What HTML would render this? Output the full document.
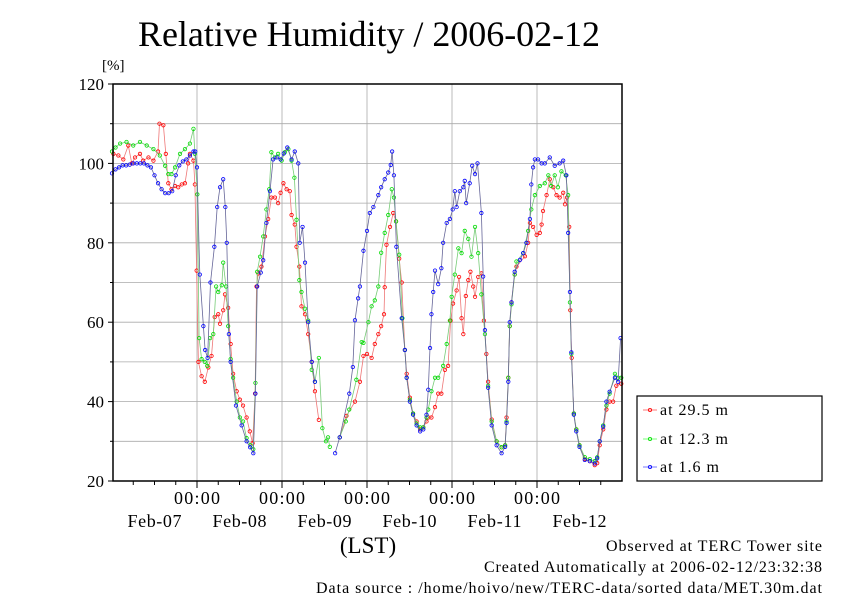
<!DOCTYPE html>
<html><head><meta charset="utf-8"><style>
body{margin:0;background:#fff}
svg{display:block;font-family:"Liberation Serif",serif}
</style></head><body>
<svg id="c" width="842" height="595" viewBox="0 0 842 595">
<text x="369" y="46" font-size="36" text-anchor="middle" textLength="462">Relative Humidity / 2006-02-12</text>
<text x="102" y="70" font-size="15">[%]</text>
<g id="grid"></g>
<g id="axes"></g>
<g id="series"></g>
<rect x="113" y="84" width="509" height="397" fill="none" stroke="#000" stroke-width="1.5"/>
<text x="368" y="553" font-size="23" text-anchor="middle">(LST)</text>
<text x="606" y="551" font-size="16" textLength="216">Observed at TERC Tower site</text>
<text x="484" y="572" font-size="16" textLength="338">Created Automatically at 2006-02-12/23:32:38</text>
<text x="316" y="593" font-size="16" textLength="506">Data source : /home/hoivo/new/TERC-data/sorted  data/MET.30m.dat</text>
<g>
<rect x="637" y="396" width="185" height="85" fill="#fff" stroke="#000" stroke-width="1.2"/>
<g><line x1="643" y1="410" x2="657" y2="410" stroke="#f55" stroke-width="0.8"/><circle cx="650" cy="410" r="1.6" fill="none" stroke="#f00" stroke-width="0.8"/><text x="660" y="415" font-size="16" textLength="68">at 29.5 m</text></g>
<g><line x1="643" y1="439" x2="657" y2="439" stroke="#5f5" stroke-width="0.8"/><circle cx="650" cy="439" r="1.6" fill="none" stroke="#0d0" stroke-width="0.8"/><text x="660" y="444" font-size="16" textLength="68">at 12.3 m</text></g>
<g><line x1="643" y1="467" x2="657" y2="467" stroke="#55f" stroke-width="0.8"/><circle cx="650" cy="467" r="1.6" fill="none" stroke="#00f" stroke-width="0.8"/><text x="660" y="472" font-size="16" textLength="59">at 1.6 m</text></g>
</g>
</svg>
<script>
const yTicks=[20,40,60,80,100,120];
const dayLabels=["Feb-07","Feb-08","Feb-09","Feb-10","Feb-11","Feb-12"];
const blueHours=[0,1,2,3,4,5,6,7,8,9,10,11,12,13,14,15,16,17,18,19,20,21,22,23,23.5,24,24.8,25.8,26.3,27,27.8,28.9,29.7,30.5,31.4,32,32.4,33,33.5,35,36.6,38,39,39.9,40.5,41,42,42.7,43.6,44.6,45.5,46.5,47.6,48.5,49.5,50.7,51.6,52.6,53,53.8,54.5,55.4,56.4,57.3,58,63,64.3,67,68,68.6,69.5,70,71,72,72.8,73.8,75.2,76,77,78,78.7,79.1,79.6,80.3,81.8,82.7,83.2,84.1,85,86,87,87.9,88.8,89.3,89.8,90.2,90.7,91.2,92.1,93,93.5,94.5,95.4,96.2,96.8,97.3,98.2,99.2,99.6,100,101,101.7,102.5,103.2,104.3,104.8,105.3,106.2,107.2,108.6,110,111,111.4,111.9,112.3,112.8,113.7,115.2,116.1,117,118,118.4,118.9,119.4,120.3,121.3,122.2,123.6,125,126.4,127.4,128.3,128.8,129.3,129.7,130.4,131.1,132,133.5,134.9,136.3,137,137.7,138.7,139.6,140.5,142,142.9,143.6];
const blueValues=[97.5,98.5,99,99.5,99.5,99.7,100,100,100,100,99.5,99,97,95,93.5,92.5,92.5,93,97,99.5,100.5,101,102,103,103,99,72,59,53,51,70,79,89,94,96,89,80,57,50,39,34,30,28.5,27,42,69,72.5,75.6,85,93,101,101.5,101,102.5,104,101,103,100,80,84,75,60,50,45,null,27,31,42,48.7,60.5,66,69,78,83,87.5,89,92,94,96,97.7,99.6,103,97,79,61,53,46,40,36.7,34,32.5,33,36.7,43,53.5,62,67.6,73,69.6,73.6,80,85,86,88.4,93,89,93,94,95.6,90,95,99.4,97.3,100,87.5,71.5,58,43.5,34,29,27,28.6,34.6,45,60,65,72.7,75.7,77.4,80,86,94.7,99,101,101,100,100,101.5,99.4,100,100.7,97,82.5,67.6,52.4,36.7,32.5,28.6,25.3,25,24.4,25.7,30,33.7,40,42.5,46,45,56];
const greenHours=[0,1,2.3,4.1,6,7.9,9.8,11.7,13.5,15,15.9,16.8,17.8,19.2,20.6,22,23,23.4,24.1,24.6,25.3,26.2,26.9,27.7,28.6,29.4,30,31,31.4,32.2,32.8,33.5,34.2,35.2,36.1,37,38,39.1,39.9,40.5,41,41.8,42.7,43.6,44.4,45,46,46.9,47.9,48.8,49.8,50.7,51.5,52.1,52.9,53.5,54.5,55.4,56.4,57.3,58.4,59.4,60.4,61,61.5,62,64.3,66,67,69,70.5,71,72.4,73.3,74.2,75.2,76,77,78,79,79.6,80.2,81.1,82,82.7,83.2,84.1,85,86,87,87.9,88.8,89.3,90.2,91.2,92.1,93.5,94.5,95.4,95.9,96.8,97.8,98.7,99.6,100.6,101.5,102.5,103.4,104.3,105.3,106.2,107.2,108.6,110,111,111.4,111.9,112.3,112.8,113.7,114.2,116.1,117.5,118.4,119.4,120.8,122.2,123.2,124,125,125.9,126.9,128.1,128.8,129.3,129.7,130.4,131.1,132,133.5,134.9,136.3,137,137.7,138.7,139.6,140.5,142,142.9,143.8];
const greenValues=[103,104,105,105.4,104.5,105.4,104.5,103.6,102,99.4,97.3,97.3,99,102.4,103.6,105,108.7,102.4,92.2,56,50.7,50,49,56,57,69,67.6,69.3,75,69,59,50.7,46,40,36,35,30.8,29,28,44.7,72.7,76.5,81.6,88.4,93.5,102.8,101.5,102.4,100.7,102.8,103.6,100.7,96.4,85.8,70.6,67.6,63.4,60.4,48,45,51,33.3,30,31,28.6,null,31,35,38,45.5,55,54.8,60,64,65.5,69,77.5,82.5,87,93.5,91.4,85.4,77,61,53,46,40.5,37,34.5,33.5,33.5,36,38,42.6,46,46,49,54.5,60.4,66.4,72,78.6,77.4,83,81,76.5,84,77.4,67,57,44,35,30,28.5,29,35,46,59,64.5,72,75.3,77.4,83,88.4,92,94.3,95,97,94.3,97,94,98,97,92,65,52,37,33,29,26,25.5,25,26,30,34,39,42,47,46,46];
const redHours=[0.4,1.8,3.2,4.6,5.6,6.5,7.9,8.8,10.3,11.7,13,13.4,14.5,15.2,15.9,16.8,17.8,18.7,19.7,20.6,21.5,22,23,23.4,23.9,24.4,25.3,26.2,27.2,28.1,29,30,30.5,31.4,31.9,32.8,33.5,34.2,35.2,36.1,37,38,38.9,39.7,40.4,40.8,41.3,42.2,43.2,44.1,45,46,46.9,47.6,48.4,49.3,50.2,50.7,51.6,52.1,52.9,53.5,54.5,55.4,56.4,57.3,58.4,59,64.3,66.2,68.6,70,71,72,73.3,74.2,75.2,76,76.8,77,77.5,78.5,79.4,80.2,81.1,81.8,82.7,83.2,84.1,85,86,87,87.9,88.8,89.3,90.2,91.2,92.1,93,94,94.9,95.6,96.3,97.3,98,98.7,99.2,99.9,100.6,101.2,102,102.5,103.4,104.3,105,105.7,106.2,107.2,108.6,110,111,111.4,111.9,112.3,112.8,113.7,114.2,116.6,117.5,118,118.9,119.9,120.8,121.3,121.7,122.7,123.6,124.6,125.5,126.4,127.4,127.9,128.5,129.1,129.4,129.8,130.4,131.1,132,133.5,134.9,136.3,137,137.7,138.7,139.6,140.5,141.5,142.4,143.8];
const redValues=[102.4,102,101,104.5,100,101.5,102.4,100.7,101.5,100.7,103,110,109.6,102.4,95,93.5,94.3,94,94.7,95,100,102.4,100.7,94.7,73,50,46.4,45,48.6,51.5,61.3,62,59.6,63,67,63.6,54.5,47,42.6,40.5,39,36,32.5,29.5,42,69,72.3,74,81.6,86,91.4,91.4,90,92.6,95,93.5,93,87,84.6,79,74,64,62,57,50,42.6,35.4,null,31,36.4,40,45,51.5,52,51,54.5,57,59,62,68.8,79.5,84,87.5,85.4,76,70,53,47,41,37,35,33,33.5,35,36,36,38.6,42,42,48,49,60.4,64.7,68,71.4,61,57,66.6,70.6,72.7,69,66.4,71.4,72.3,60.4,52,45,35.5,30,28.5,29,36,46,59,65,72,74,76.6,80,85,84,82,82.5,84.6,88,92,96,94,92,91.4,92.6,89.7,91.4,84,63,51,37,33,29,25.5,25,24,24.5,29,33,38,40,40,44,44.5];

const X0=112,PXH=85/24,YB=481,PXV=397/100;
const xs=h=>X0+h*PXH;
const ys=v=>YB-(v-20)*PXV;
const NS="http://www.w3.org/2000/svg";
function mk(tag,attrs,parent){const e=document.createElementNS(NS,tag);for(const k in attrs)e.setAttribute(k,attrs[k]);parent.appendChild(e);return e;}
const grid=document.getElementById('grid'),axes=document.getElementById('axes'),ser=document.getElementById('series');
for(let v=30;v<120;v+=10){const l=mk('line',{x1:113,x2:622,y1:ys(v),y2:ys(v),stroke:'#aaa','stroke-width':0.8},grid);

}
for(let d=1;d<=5;d++){const l=mk('line',{x1:xs(d*24),x2:xs(d*24),y1:84,y2:481,stroke:'#aaa','stroke-width':0.8},grid);

}
yTicks.forEach(v=>{const t=mk('text',{x:104,y:ys(v)+6,'font-size':17,'text-anchor':'end'},axes);t.textContent=v;


mk('line',{x1:108,x2:113,y1:ys(v),y2:ys(v),stroke:'#000'},axes);});
for(let v=30;v<120;v+=20){mk('line',{x1:110,x2:113,y1:ys(v),y2:ys(v),stroke:'#000'},axes);}
for(let h=6;h<144;h+=6){const maj=h%24===0;mk('line',{x1:xs(h),x2:xs(h),y1:481,y2:maj?488:485,stroke:'#000'},axes);}
for(let d=1;d<=5;d++){const t=mk('text',{x:xs(d*24)-23,y:504,'font-size':18,textLength:46},axes);t.textContent='00:00';

}
dayLabels.forEach((s,i)=>{const t=mk('text',{x:xs(i*24+12)-27,y:527,'font-size':18,textLength:54},axes);t.textContent=s;

});
function draw(hours,vals,line,pt,name){
  const g=mk('g',{},ser);
  
  
  let d='',pen=false;
  hours.forEach((h,i)=>{const v=vals[i];if(v==null){pen=false;return;}d+=(pen?'L':'M')+xs(h).toFixed(1)+' '+ys(v).toFixed(1);pen=true;});
  mk('path',{d:d,fill:'none',stroke:line,'stroke-width':0.8},g);
  hours.forEach((h,i)=>{const v=vals[i];if(v==null)return;const c=mk('circle',{cx:xs(h),cy:ys(v),r:1.7,fill:'none',stroke:pt,'stroke-width':0.8},g);
  
  });
}
draw(redHours,redValues,'#e77','#f00','series-29-5m');
draw(greenHours,greenValues,'#7c7','#0d0','series-12-3m');
draw(blueHours,blueValues,'#669','#00f','series-1-6m');
</script>
</body></html>
